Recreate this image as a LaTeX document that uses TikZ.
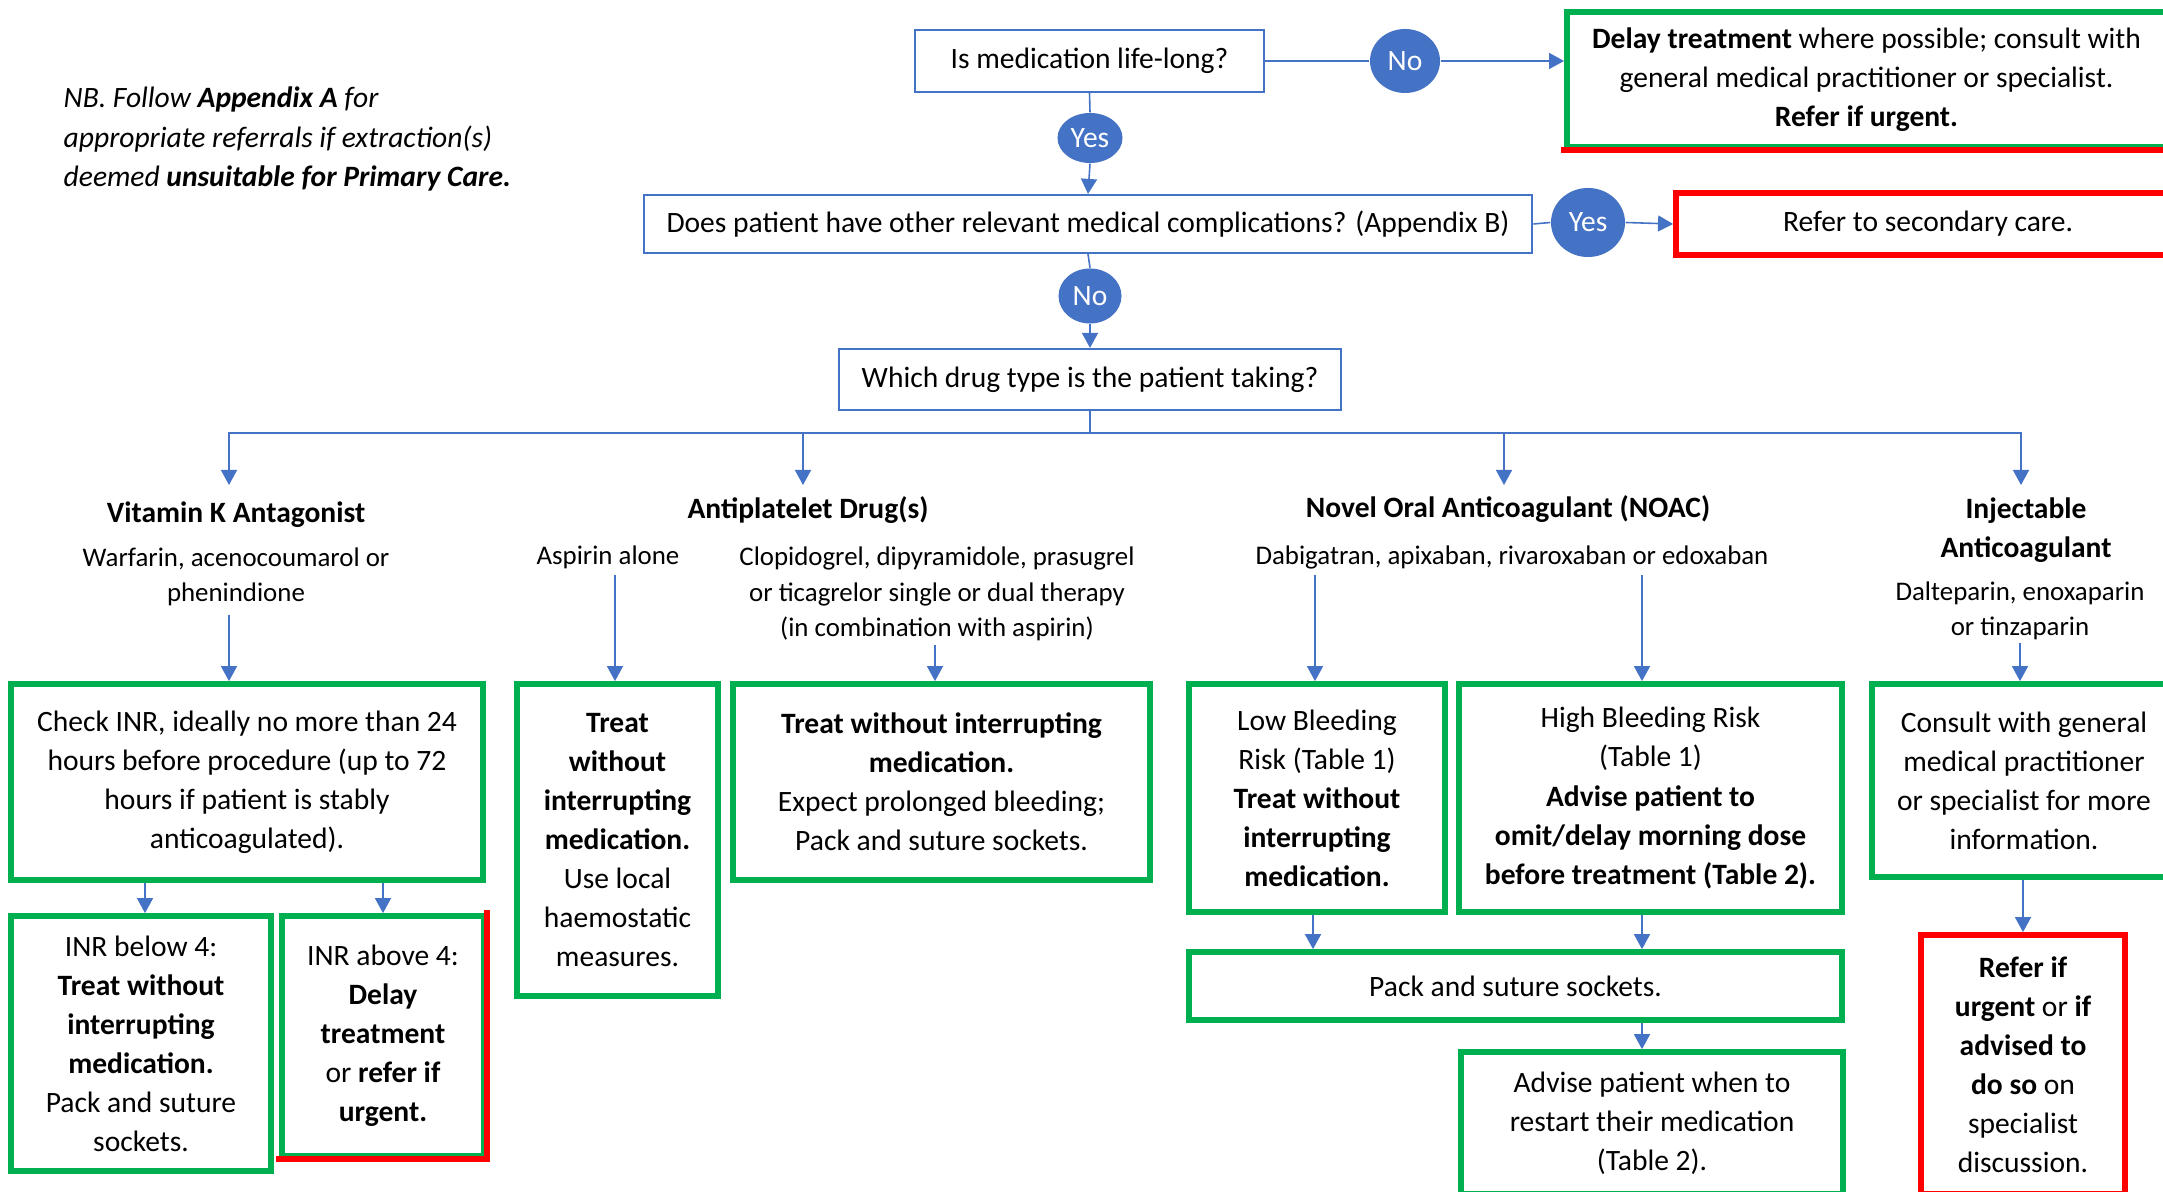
\documentclass[tikz,border=0pt]{standalone}
\usepackage{fontspec}
\setmainfont{Carlito}
\usepackage{xcolor}
\usepackage{tikz}
\usetikzlibrary{shapes.geometric, arrows.meta, positioning, calc}
\definecolor{officeblue}{RGB}{68, 114, 196}
\definecolor{safegreen}{RGB}{0, 176, 80}
\definecolor{alertred}{RGB}{255, 0, 0}
\newcommand{\flowsize}{\fontsize{8.4}{11.1}\selectfont}
\newcommand{\drugsize}{\fontsize{7.64}{10.1}\selectfont}

\begin{document}
\begin{tikzpicture}[x=0.01cm, y=-0.01cm,
    every node/.style={font=\flowsize, align=center, inner sep=0pt},
    qbox/.style={draw=officeblue, line width=0.6pt},
    gobox/.style={draw=safegreen, line width=1.6pt},
    stopbox/.style={draw=alertred, line width=1.6pt},
    alertline/.style={alertred, line width=1.6pt, line cap=rect},
    answer/.style={ellipse, fill=officeblue, text=white},
    head/.style={font=\flowsize\bfseries},
    drugs/.style={font=\drugsize},
    link/.style={officeblue, line width=0.45pt},
    arr/.style={link, -{Triangle[length=0.15cm, width=0.16cm]}}]
    \useasboundingbox (0,0) rectangle (2163,1192);

    % note
    \node[anchor=west, align=left, font=\flowsize\itshape] (note) at (63,139)
        {NB. Follow \textbf{Appendix A} for\\
         appropriate referrals if extraction(s)\\
         deemed \textbf{unsuitable for Primary Care.}};

    % questions
    \node[qbox, minimum width=3.49cm, minimum height=0.62cm] (q1) at (1089.5,61)
        {Is medication life-long?};
    \node[answer, minimum width=0.70cm, minimum height=0.64cm] (no1) at (1405,61) {No};
    \node[gobox, minimum width=5.99cm, minimum height=1.35cm] (delay) at (1866.5,79.5)
        {\textbf{Delay treatment} where possible; consult with\\
         general medical practitioner or specialist.\\
         \textbf{Refer if urgent.}};
    \draw[alertline] (delay.south west) -- (delay.south east);
    \node[answer, minimum width=0.65cm, minimum height=0.50cm] (yes1) at (1090,138) {Yes};
    \node[qbox, minimum width=8.88cm, minimum height=0.58cm] (q2) at (1088,224)
        {Does patient have other relevant medical complications? (Appendix B)};
    \node[answer, minimum width=0.74cm, minimum height=0.69cm] (yes2) at (1588,222.5) {Yes};
    \node[stopbox, minimum width=5.04cm, minimum height=0.62cm] (refer) at (1928,224)
        {Refer to secondary care.};
    \node[answer, minimum width=0.63cm, minimum height=0.55cm] (no2) at (1090,296) {No};
    \node[qbox, minimum width=5.02cm, minimum height=0.61cm] (q3) at (1090,379.5)
        {Which drug type is the patient taking?};

    \draw[link] (q1.east) -- (no1.west);
    \draw[arr] (no1.east) -- (no1.east -| delay.west);
    \draw[link] (q1.south) -- (yes1.north);
    \draw[arr] (yes1.south) -- (q2.north);
    \draw[link] (q2.east) -- (yes2.west);
    \draw[arr] (yes2.east) -- (refer.west);
    \draw[link] (q2.south) -- (no2.north);
    \draw[arr] (no2.south) -- (q3.north);

    % drug types
    \coordinate (split) at (1090,433);
    \coordinate (vkah) at (229,485);
    \coordinate (apdh) at (803,485);
    \coordinate (noach) at (1504,485);
    \coordinate (injh) at (2021,485);
    \draw[link] (q3.south) -- (split);
    \foreach \h in {vkah, apdh, noach, injh}
        \draw[arr] (split) -| (\h);

    \node[head] (vka) at (236,515) {Vitamin K Antagonist};
    \node[drugs] (vkadrugs) at (236,577) {Warfarin, acenocoumarol or\\phenindione};
    \node[head] (apd) at (808,510) {Antiplatelet Drug(s)};
    \node[drugs] (asp) at (608,557) {Aspirin alone};
    \node[drugs] (clop) at (937,594) {Clopidogrel, dipyramidole, prasugrel\\
        or ticagrelor single or dual therapy\\(in combination with aspirin)};
    \node[head] (noac) at (1508,509) {Novel Oral Anticoagulant (NOAC)};
    \node[drugs] (noacdrugs) at (1512,557) {Dabigatran, apixaban, rivaroxaban or edoxaban};
    \node[head] (inj) at (2026,530) {Injectable\\Anticoagulant};
    \node[drugs] (injdrugs) at (2020,611) {Dalteparin, enoxaparin\\or tinzaparin};

    % first row of actions
    \node[gobox, minimum width=4.72cm, minimum height=1.96cm] (inr) at (247,782)
        {Check INR, ideally no more than 24\\hours before procedure (up to 72\\
         hours if patient is stably\\anticoagulated).};
    \node[gobox, minimum width=2.01cm, minimum height=3.12cm] (asptreat) at (617.5,840)
        {\textbf{Treat}\\\textbf{without}\\\textbf{interrupting}\\\textbf{medication.}\\
         Use local\\haemostatic\\measures.};
    \node[gobox, minimum width=4.17cm, minimum height=1.96cm] (cloptreat) at (941.5,782)
        {\textbf{Treat without interrupting}\\\textbf{medication.}\\
         Expect prolonged bleeding;\\Pack and suture sockets.};
    \node[gobox, minimum width=2.56cm, minimum height=2.28cm] (low) at (1317,798)
        {Low Bleeding\\Risk (Table 1)\\\textbf{Treat without}\\
         \textbf{interrupting}\\\textbf{medication.}};
    \node[gobox, minimum width=3.83cm, minimum height=2.28cm] (high) at (1650.5,798)
        {High Bleeding Risk\\(Table 1)\\\textbf{Advise patient to}\\
         \textbf{omit/delay morning dose}\\\textbf{before treatment (Table 2).}};
    \node[gobox, minimum width=3.04cm, minimum height=1.93cm] (consult) at (2024,780.5)
        {Consult with general\\medical practitioner\\or specialist for more\\information.};

    \coordinate (vkaa) at (229,615);
    \coordinate (aspa) at (615,575);
    \coordinate (clopa) at (935,645);
    \coordinate (lowa) at (1315,575);
    \coordinate (higha) at (1642,575);
    \coordinate (inja) at (2020,643);
    \draw[arr] (vkaa) -- (vkaa |- inr.north);
    \draw[arr] (aspa) -- (aspa |- asptreat.north);
    \draw[arr] (clopa) -- (clopa |- cloptreat.north);
    \draw[arr] (lowa) -- (lowa |- low.north);
    \draw[arr] (higha) -- (higha |- high.north);
    \draw[arr] (inja) -- (inja |- consult.north);

    % second row of actions
    \node[gobox, minimum width=2.60cm, minimum height=2.55cm] (below) at (141,1043.5)
        {INR below 4:\\\textbf{Treat without}\\\textbf{interrupting}\\
         \textbf{medication.}\\Pack and suture\\sockets.};
    \node[gobox, minimum width=2.02cm, minimum height=2.40cm] (above) at (383,1036)
        {INR above 4:\\\textbf{Delay}\\\textbf{treatment}\\
         or \textbf{refer if}\\\textbf{urgent.}};
    \draw[alertline] (above.north east) -- (above.south east) -- (above.south west);
    \node[gobox, minimum width=6.53cm, minimum height=0.68cm] (pack) at (1515.5,986)
        {Pack and suture sockets.};
    \node[gobox, minimum width=3.82cm, minimum height=1.42cm] (restart) at (1652,1123)
        {Advise patient when to\\restart their medication\\(Table 2).};
    \node[stopbox, minimum width=2.04cm, minimum height=2.59cm] (referurg) at (2023,1064.5)
        {\textbf{Refer if}\\\textbf{urgent} or \textbf{if}\\\textbf{advised to}\\
         \textbf{do so} on\\specialist\\discussion.};

    \draw[arr] (inr.south -| 145,0) -- (below.north -| 145,0);
    \draw[arr] (inr.south -| above.north) -- (above.north);
    \draw[arr] (low.south -| 1313,0) -- (pack.north -| 1313,0);
    \draw[arr] (high.south -| higha) -- (pack.north -| higha);
    \draw[arr] (pack.south -| higha) -- (restart.north -| higha);
    \draw[arr] (consult.south -| referurg.north) -- (referurg.north);
\end{tikzpicture}
\end{document}
